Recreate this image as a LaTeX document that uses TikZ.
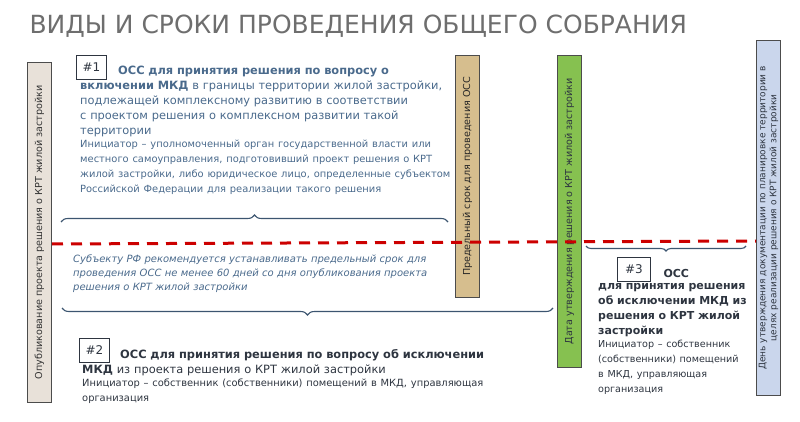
\documentclass[tikz,border=0pt]{standalone}
\usepackage{fontspec}
\setmainfont{DejaVu Sans}
\usetikzlibrary{decorations.pathreplacing}
\definecolor{tblue}{HTML}{4A6A8C}
\definecolor{tdark}{HTML}{2E3540}
\definecolor{tgray}{HTML}{6E6E6E}
\definecolor{bartan}{HTML}{D6BE8E}
\definecolor{bargreen}{HTML}{86C150}
\definecolor{barblue}{HTML}{CAD6EC}
\definecolor{barbeige}{HTML}{E8E1D9}
\definecolor{bracec}{HTML}{3C5570}
\begin{document}
\begin{tikzpicture}[x=1pt,y=-1pt,
  vbar/.style={draw=black!70,line width=0.8pt,minimum width=24pt,anchor=north west,inner sep=0pt},
  vtxt/.style={rotate=90,font=\fontsize{9.6}{11}\selectfont,align=center},
  numbox/.style={draw=tdark,line width=0.9pt,minimum width=30pt,minimum height=24pt,font=\fontsize{12}{12}\selectfont,text=tdark,anchor=north west},
  brc/.style={draw=bracec,line width=1.1pt,decorate,decoration={brace,amplitude=7pt}},
  txt/.style={anchor=north west,align=left,inner sep=0pt}]
\useasboundingbox (0,0) rectangle (800,422);
\node[anchor=west,text=tgray,font=\fontsize{25}{25}\selectfont] (title) at (26,26) {ВИДЫ И СРОКИ ПРОВЕДЕНИЯ ОБЩЕГО СОБРАНИЯ};
% bars
\node[vbar,fill=barbeige,minimum height=340pt] (b1) at (27,62) {};
\node[vtxt,text=black!80] at (b1.center) {Опубликование проекта решения о КРТ жилой застройки};
\node[vbar,fill=bartan,minimum height=242pt] (b2) at (455,55) {};
\node[vtxt,text=black!85] at (b2.center) {Предельный срок для проведения ОСС};
\node[vbar,fill=bargreen,minimum height=312pt] (b3) at (557,55) {};
\node[vtxt,text=tdark] at (b3.center) {Дата утверждения решения о КРТ жилой застройки};
\node[vbar,fill=barblue,minimum height=355pt] (b4) at (756,40) {};
\node[vtxt,text=tdark,font=\fontsize{9}{11}\selectfont] at (b4.center) {День утверждения документации по планировке территории в\\ целях реализации решения о КРТ жилой застройки};
% red line
\coordinate (rl) at (52,244);
\coordinate (rr) at (756,241);
\draw[red!80!black,line width=3pt,dash pattern=on 11pt off 8pt] (rl) -- (rr);
% #1
\node[numbox] (n1) at (76,55) {\#1};
\node[txt,text=tblue,font=\fontsize{11.4}{15}\selectfont,text width=372pt] (t1) at (80,66)
 {\hspace*{38pt}\textbf{ОСС для принятия решения по вопросу о включении МКД} в границы территории жилой застройки, подлежащей комплексному развитию в соответствии с проектом решения о комплексном развитии такой территории\\[-2pt]
 {\fontsize{9.9}{12.8}\selectfont Инициатор -- уполномоченный орган государственной власти или местного самоуправления, подготовивший проект решения о КРТ жилой застройки, либо юридическое лицо, определенные субъектом Российской Федерации для реализации такого решения}};
\coordinate (br1a) at (61,222);
\coordinate (br1b) at (448,222);
\draw[brc] (br1a) -- (br1b);
% italic note
\node[txt,text=tblue,font=\itshape\fontsize{10}{14}\selectfont,text width=360pt] (t2) at (73,255)
 {Субъекту РФ рекомендуется устанавливать предельный срок для проведения ОСС не менее 60 дней со дня опубликования проекта решения о КРТ жилой застройки};
\coordinate (br2a) at (553,308);
\coordinate (br2b) at (62,308);
\draw[brc] (br2a) -- (br2b);
% #2
\node[numbox] (n2) at (79,338) {\#2};
\node[txt,text=tdark,font=\fontsize{11.4}{15}\selectfont,text width=405pt] (t3) at (82,349)
 {\hspace*{38pt}\textbf{ОСС для принятия решения по вопросу об исключении МКД} из проекта решения о КРТ жилой застройки\\[-2pt]
 {\fontsize{9.9}{12.8}\selectfont Инициатор -- собственник (собственники) помещений в МКД, управляющая организация}};
% #3
\coordinate (br3a) at (746,246);
\coordinate (br3b) at (586,246);
\draw[brc,decoration={brace,amplitude=5pt}] (br3a) -- (br3b);
\node[numbox,minimum width=33pt] (n3) at (617,257) {\#3};
\node[anchor=west,text=tdark,font=\bfseries\fontsize{11}{12}\selectfont] (occ) at (660,273) {ОСС};
\node[txt,text=tdark,font=\fontsize{11}{15}\selectfont,text width=155pt] (t4) at (598,283)
 {\textbf{для принятия решения об исключении МКД из решения о КРТ жилой застройки}\\[-2pt]
 {\fontsize{9.6}{12.8}\selectfont Инициатор -- собственник (собственники) помещений в МКД, управляющая организация}};
\end{tikzpicture}
\end{document}
